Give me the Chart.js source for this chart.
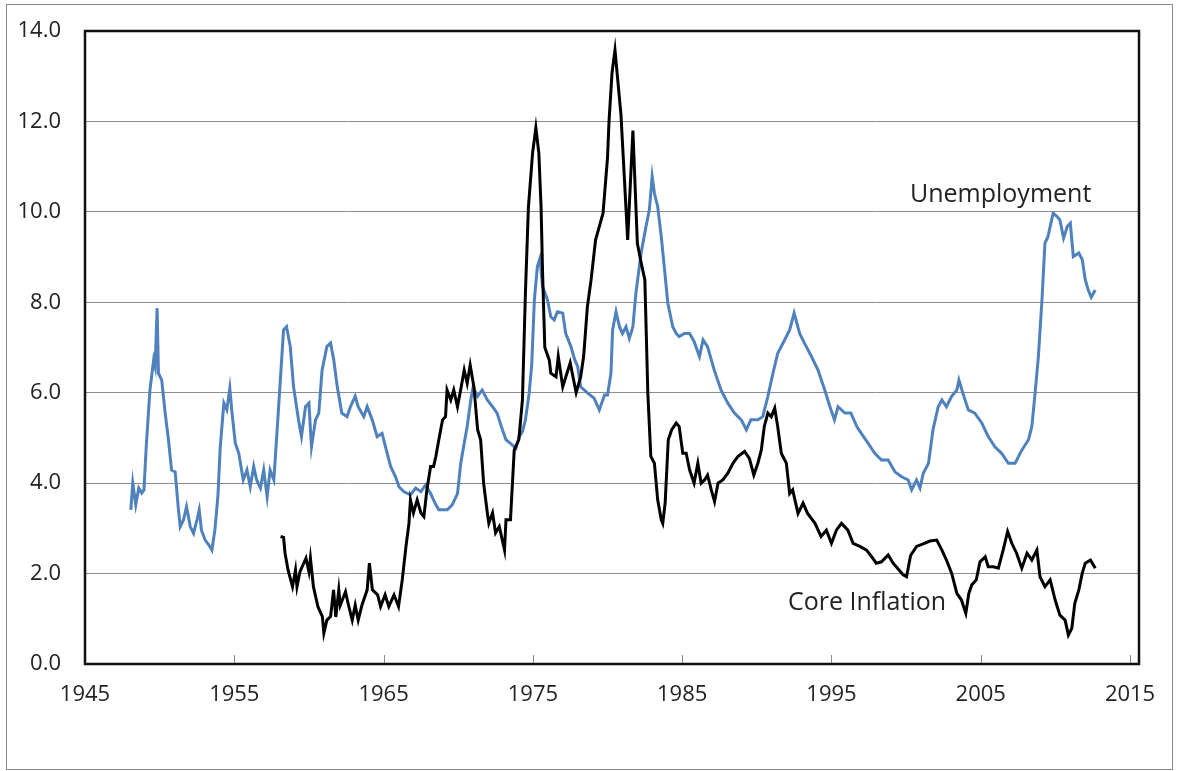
<!DOCTYPE html>
<html lang="en">
<head>
    <meta charset="utf-8" />
    <title>Unemployment and Core Inflation</title>
    <script src="https://cdnjs.cloudflare.com/ajax/libs/Chart.js/4.4.0/chart.umd.js"></script>
    <style>
        html, body { margin: 0; padding: 0; background: #fff; }
        canvas { display: block; }
    </style>
</head>
<body>
    <canvas id="chart" width="1177" height="771"></canvas>
    <script>
        // unemployment rate, %
        const unempYears = [
            1948.07, 1948.2, 1948.4, 1948.6, 1948.8, 1948.95, 1949.1, 1949.35, 1949.6, 1949.7, 1949.83, 1949.92,
            1950.14, 1950.37, 1950.59, 1950.8, 1951.04, 1951.26, 1951.38, 1951.6, 1951.8, 1952.05, 1952.27, 1952.5,
            1952.65, 1952.8, 1953.05, 1953.3, 1953.5, 1953.7, 1953.9, 1954.06, 1954.3, 1954.5, 1954.7, 1954.85,
            1955.07, 1955.3, 1955.6, 1955.85, 1956.07, 1956.3, 1956.5, 1956.75, 1956.97, 1957.2, 1957.4, 1957.65,
            1957.87, 1958.1, 1958.3, 1958.5, 1958.75, 1958.97, 1959.3, 1959.5, 1959.77, 1960.0, 1960.17, 1960.44,
            1960.66, 1960.88, 1961.2, 1961.45, 1961.66, 1961.9, 1962.2, 1962.55, 1962.78, 1963.1, 1963.3, 1963.67,
            1963.9, 1964.24, 1964.57, 1964.9, 1965.13, 1965.47, 1965.8, 1966.03, 1966.37, 1966.8, 1967.15, 1967.5,
            1967.8, 1968.15, 1968.5, 1968.7, 1969.27, 1969.6, 1969.95, 1970.17, 1970.4, 1970.6, 1970.84, 1971.0,
            1971.3, 1971.6, 1971.95, 1972.3, 1972.6, 1972.96, 1973.2, 1973.5, 1973.86, 1974.08, 1974.3, 1974.5,
            1974.75, 1974.92, 1975.1, 1975.3, 1975.47, 1975.65, 1975.98, 1976.2, 1976.43, 1976.65, 1977.0, 1977.2,
            1977.55, 1977.8, 1978.0, 1978.2, 1978.67, 1979.1, 1979.45, 1979.8, 1980.0, 1980.23, 1980.34, 1980.57,
            1980.8, 1981.0, 1981.24, 1981.46, 1981.7, 1981.9, 1982.25, 1982.58, 1982.8, 1982.99, 1983.14, 1983.36,
            1983.6, 1983.8, 1984.04, 1984.37, 1984.6, 1984.8, 1985.15, 1985.5, 1985.8, 1986.16, 1986.4, 1986.7,
            1987.15, 1987.6, 1988.06, 1988.5, 1988.96, 1989.3, 1989.6, 1990.07, 1990.4, 1990.74, 1991.08, 1991.4,
            1991.87, 1992.2, 1992.5, 1992.87, 1993.2, 1993.66, 1994.1, 1994.55, 1994.9, 1995.2, 1995.44, 1995.9,
            1996.3, 1996.7, 1997.0, 1997.46, 1997.9, 1998.35, 1998.8, 1999.25, 1999.7, 2000.14, 2000.37, 2000.7,
            2000.93, 2001.15, 2001.5, 2001.8, 2002.15, 2002.4, 2002.7, 2003.05, 2003.4, 2003.54, 2003.8, 2004.17,
            2004.6, 2005.07, 2005.5, 2005.96, 2006.4, 2006.85, 2007.3, 2007.75, 2008.2, 2008.42, 2008.64, 2008.86,
            2009.1, 2009.3, 2009.5, 2009.7, 2009.85, 2010.1, 2010.3, 2010.55, 2010.8, 2011.0, 2011.2, 2011.57,
            2011.8, 2012.0, 2012.2, 2012.4, 2012.67
        ];
        const unempRate = [
            3.41, 4.0, 3.52, 3.89, 3.78, 3.85, 4.8, 6.06, 6.73, 6.58, 7.87, 6.43,
            6.28, 5.55, 4.96, 4.29, 4.25, 3.41, 3.04, 3.19, 3.48, 3.04, 2.89, 3.19,
            3.41, 2.96, 2.74, 2.63, 2.52, 2.96, 3.7, 4.8, 5.77, 5.62, 6.1, 5.55,
            4.88, 4.66, 4.07, 4.29, 3.92, 4.37, 4.07, 3.89, 4.29, 3.7, 4.29, 4.07,
            5.18, 6.36, 7.39, 7.46, 7.02, 6.13, 5.4, 5.03, 5.69, 5.77, 4.8, 5.4,
            5.55, 6.5, 7.02, 7.1, 6.73, 6.13, 5.55, 5.47, 5.69, 5.92, 5.69, 5.47,
            5.69, 5.4, 5.03, 5.1, 4.8, 4.37, 4.14, 3.92, 3.81, 3.74, 3.89, 3.81,
            3.96, 3.77, 3.52, 3.41, 3.41, 3.52, 3.77, 4.44, 4.88, 5.25, 5.84, 6.13,
            5.92, 6.06, 5.84, 5.69, 5.55, 5.18, 4.96, 4.88, 4.77, 5.03, 5.14, 5.4,
            5.99, 6.6, 8.05, 8.79, 8.97, 8.35, 8.05, 7.68, 7.61, 7.79, 7.76, 7.31,
            7.02, 6.73, 6.58, 6.13, 5.99, 5.88, 5.62, 5.95, 5.95, 6.43, 7.39, 7.79,
            7.46, 7.31, 7.46, 7.2, 7.46, 8.2, 9.09, 9.68, 10.04, 10.78, 10.41, 10.12,
            9.45, 8.79, 7.98, 7.46, 7.31, 7.24, 7.31, 7.31, 7.13, 6.8, 7.17, 7.02,
            6.5, 6.06, 5.77, 5.55, 5.4, 5.18, 5.4, 5.4, 5.47, 5.92, 6.43, 6.87,
            7.17, 7.39, 7.76, 7.31, 7.09, 6.8, 6.5, 6.06, 5.69, 5.4, 5.69, 5.55,
            5.55, 5.25, 5.1, 4.88, 4.66, 4.51, 4.51, 4.25, 4.14, 4.07, 3.85, 4.07,
            3.89, 4.22, 4.44, 5.18, 5.69, 5.84, 5.69, 5.92, 6.06, 6.28, 5.99, 5.62,
            5.55, 5.33, 5.03, 4.8, 4.66, 4.44, 4.44, 4.73, 4.96, 5.25, 5.99, 6.8,
            8.05, 9.31, 9.45, 9.75, 9.97, 9.9, 9.82, 9.42, 9.68, 9.75, 9.01, 9.09,
            8.94, 8.5, 8.27, 8.11, 8.27
        ];

        // core inflation, %
        const coreYears = [
            1958.1, 1958.3, 1958.4, 1958.6, 1958.9, 1959.1, 1959.2, 1959.4, 1959.8, 1960.0, 1960.1, 1960.3,
            1960.6, 1960.9, 1961.0, 1961.2, 1961.45, 1961.65, 1961.8, 1962.0, 1962.1, 1962.45, 1962.65, 1962.9,
            1963.1, 1963.3, 1963.55, 1963.9, 1964.05, 1964.25, 1964.6, 1964.8, 1965.1, 1965.35, 1965.7, 1966.0,
            1966.25, 1966.5, 1966.7, 1966.8, 1967.0, 1967.25, 1967.5, 1967.7, 1967.9, 1968.15, 1968.35, 1968.5,
            1968.7, 1968.95, 1969.15, 1969.25, 1969.5, 1969.7, 1969.95, 1970.2, 1970.4, 1970.6, 1970.8, 1971.05,
            1971.3, 1971.5, 1971.7, 1971.95, 1972.05, 1972.3, 1972.5, 1972.75, 1973.1, 1973.2, 1973.5, 1973.75,
            1974.06, 1974.3, 1974.5, 1974.7, 1974.98, 1975.2, 1975.4, 1975.55, 1975.65, 1975.8, 1976.1, 1976.2,
            1976.55, 1976.7, 1977.0, 1977.5, 1977.9, 1978.2, 1978.4, 1978.65, 1978.9, 1979.2, 1979.7, 1980.0,
            1980.1, 1980.3, 1980.5, 1980.9, 1981.35, 1981.7, 1982.0, 1982.3, 1982.5, 1982.7, 1982.9, 1983.14,
            1983.36, 1983.6, 1983.7, 1983.86, 1984.07, 1984.3, 1984.6, 1984.8, 1985.04, 1985.27, 1985.5, 1985.8,
            1986.05, 1986.27, 1986.5, 1986.7, 1986.95, 1987.17, 1987.4, 1987.72, 1988.06, 1988.4, 1988.73, 1989.18,
            1989.5, 1989.8, 1990.07, 1990.3, 1990.5, 1990.74, 1990.97, 1991.2, 1991.4, 1991.64, 1991.98, 1992.2,
            1992.4, 1992.76, 1993.1, 1993.4, 1993.9, 1994.3, 1994.66, 1995.0, 1995.33, 1995.67, 1996.1, 1996.45,
            1996.9, 1997.35, 1997.7, 1998.0, 1998.35, 1998.8, 1999.13, 1999.47, 1999.8, 2000.03, 2000.3, 2000.7,
            2001.1, 2001.6, 2002.05, 2002.4, 2002.7, 2003.05, 2003.4, 2003.7, 2004.0, 2004.2, 2004.4, 2004.7,
            2004.95, 2005.3, 2005.5, 2005.85, 2006.18, 2006.5, 2006.8, 2007.08, 2007.4, 2007.75, 2008.1, 2008.42,
            2008.76, 2008.97, 2009.3, 2009.65, 2009.98, 2010.3, 2010.65, 2010.87, 2011.1, 2011.3, 2011.57, 2011.8,
            2012.0, 2012.35, 2012.67
        ];
        const coreRate = [
            2.82, 2.8, 2.45, 2.08, 1.71, 2.08, 1.71, 2.04, 2.34, 2.04, 2.34, 1.71,
            1.27, 1.05, 0.68, 0.97, 1.05, 1.64, 1.04, 1.64, 1.3, 1.6, 1.3, 0.97,
            1.3, 0.97, 1.3, 1.64, 2.23, 1.64, 1.53, 1.27, 1.53, 1.27, 1.53, 1.27,
            1.86, 2.6, 3.11, 3.63, 3.34, 3.63, 3.34, 3.26, 3.85, 4.37, 4.37, 4.59,
            4.96, 5.4, 5.47, 6.06, 5.84, 6.06, 5.69, 6.13, 6.5, 6.21, 6.61, 6.13,
            5.18, 4.96, 4.0, 3.34, 3.11, 3.34, 2.9, 3.04, 2.52, 3.19, 3.19, 4.73,
            4.96, 5.84, 8.2, 10.1, 11.3, 11.86, 11.3, 10.1, 8.65, 7.0, 6.72, 6.43,
            6.35, 6.8, 6.13, 6.66, 6.0, 6.35, 6.8, 7.9, 8.5, 9.38, 9.97, 11.2,
            12.0, 13.07, 13.58, 12.15, 9.38, 11.8, 9.3, 8.8, 8.5, 5.99, 4.59, 4.44,
            3.63, 3.19, 3.11, 3.56, 4.96, 5.18, 5.33, 5.25, 4.66, 4.66, 4.29, 4.0,
            4.44, 4.0, 4.07, 4.18, 3.85, 3.59, 4.0, 4.07, 4.22, 4.44, 4.59, 4.7,
            4.55, 4.18, 4.44, 4.73, 5.25, 5.55, 5.47, 5.66, 5.25, 4.66, 4.44, 3.77,
            3.85, 3.33, 3.56, 3.33, 3.11, 2.82, 2.96, 2.67, 2.96, 3.11, 2.96, 2.67,
            2.6, 2.52, 2.37, 2.23, 2.26, 2.41, 2.23, 2.1, 1.97, 1.93, 2.4, 2.6,
            2.65, 2.72, 2.74, 2.52, 2.3, 2.01, 1.56, 1.42, 1.12, 1.56, 1.75, 1.86,
            2.26, 2.37, 2.15, 2.15, 2.12, 2.52, 2.93, 2.67, 2.45, 2.12, 2.45, 2.3,
            2.52, 1.93, 1.71, 1.86, 1.42, 1.08, 0.97, 0.64, 0.79, 1.34, 1.64, 2.01,
            2.23, 2.3, 2.12
        ];

        const xTickValues = [1945, 1955, 1965, 1975, 1985, 1995, 2005, 2015];
        const seriesLabels = [
            { text: 'Unemployment', x: 2000.26, y: 10.22 },
            { text: 'Core Inflation', x: 1992.09, y: 1.19 }
        ];

        Chart.defaults.font.family = "'Open Sans', sans-serif";

        const frame = {
            id: 'frame',
            beforeDraw(chart) {
                const c = chart.ctx;
                c.save();
                c.fillStyle = '#fff';
                c.fillRect(0, 0, chart.width, chart.height);
                c.strokeStyle = '#8a8a8a';
                c.lineWidth = 1;
                c.strokeRect(6.5, 4.5, 1166, 765);
                c.restore();
            },
            afterDatasetsDraw(chart) {
                const c = chart.ctx;
                const a = chart.chartArea;
                const xs = chart.scales.x;
                const ys = chart.scales.y;
                c.save();
                // inside tick marks on x axis
                c.strokeStyle = '#8a8a8a';
                c.lineWidth = 1;
                xTickValues.forEach(v => {
                    const px = Math.round(xs.getPixelForValue(v)) + 0.5;
                    c.beginPath();
                    c.moveTo(px, a.bottom);
                    c.lineTo(px, a.bottom - 9);
                    c.stroke();
                });
                // plot border
                c.strokeStyle = '#111';
                c.lineWidth = 2.5;
                c.strokeRect(a.left, a.top, a.right - a.left, a.bottom - a.top);
                // series labels
                c.fillStyle = '#222';
                c.font = "25px 'Open Sans', sans-serif";
                c.textAlign = 'left';
                c.textBaseline = 'alphabetic';
                seriesLabels.forEach(l => {
                    c.fillText(l.text, xs.getPixelForValue(l.x), ys.getPixelForValue(l.y));
                });
                c.restore();
            }
        };

        const ctx = document.getElementById('chart').getContext('2d');
        new Chart(ctx, {
            type: 'line',
            data: {
                datasets: [{
                    label: 'Unemployment',
                    data: unempYears.map((x, i) => ({ x: x, y: unempRate[i] })),
                    borderColor: '#4f81bd',
                    borderWidth: 3,
                    pointRadius: 0,
                    tension: 0,
                    order: 1
                }, {
                    label: 'Core Inflation',
                    data: coreYears.map((x, i) => ({ x: x, y: coreRate[i] })),
                    borderColor: '#000',
                    borderWidth: 3,
                    pointRadius: 0,
                    tension: 0,
                    order: 0
                }]
            },
            options: {
                responsive: false,
                animation: false,
                layout: { padding: { left: 0, top: 31, right: 38, bottom: 0 } },
                plugins: {
                    legend: { display: false },
                    tooltip: { enabled: false }
                },
                scales: {
                    x: {
                        type: 'linear',
                        min: 1945,
                        max: 2015.6,
                        afterBuildTicks: scale => { scale.ticks = xTickValues.map(v => ({ value: v })); },
                        afterFit: scale => { scale.height = 107; },
                        grid: { display: false, drawTicks: false },
                        border: { display: false },
                        ticks: {
                            padding: 18,
                            color: '#222',
                            font: { size: 22 },
                            maxRotation: 0,
                            callback: v => String(v)
                        }
                    },
                    y: {
                        min: 0,
                        max: 14,
                        afterFit: scale => { scale.width = 85; },
                        grid: { color: '#8c8c8c', lineWidth: 1, drawTicks: false },
                        border: { display: false },
                        ticks: {
                            stepSize: 2,
                            padding: 24,
                            color: '#222',
                            // small line height keeps the top label from pushing the plot down
                            font: { size: 22, lineHeight: 0.6 },
                            callback: v => v.toFixed(1)
                        }
                    }
                }
            },
            plugins: [frame]
        });
    </script>
</body>
</html>
